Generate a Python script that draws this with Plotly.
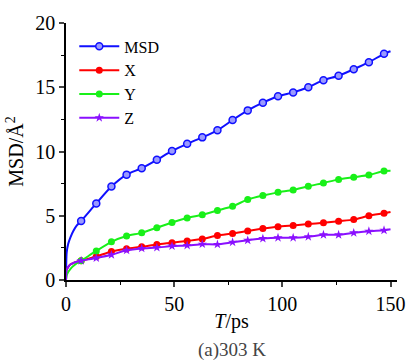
import plotly.graph_objects as go

# time points (ps): early points + marker points every 7 ps + end point
t_early = [0, 0.3, 1, 2, 3.5, 5]
t_mark = [7, 14, 21, 28, 35, 42, 49, 56, 63, 70, 77, 84, 91, 98, 105, 112, 119, 126, 133, 140, 147]
t_end = [150]

msd_early = [0, 2.1, 2.8, 3.3, 3.85, 4.25]
msd_mark = [4.6, 5.96, 7.27, 8.2, 8.7, 9.35, 10.04, 10.6, 11.1, 11.65, 12.45, 13.2, 13.8, 14.3, 14.6, 15.0, 15.55, 15.9, 16.4, 16.95, 17.6]
msd_end = [17.8]

x_early = [0, 0.8, 1.0, 1.2, 1.33, 1.42]
x_mark = [1.5, 1.83, 2.22, 2.44, 2.59, 2.77, 2.9, 3.04, 3.19, 3.47, 3.62, 3.82, 4.0, 4.15, 4.25, 4.35, 4.45, 4.58, 4.7, 5.0, 5.2]
x_end = [5.3]

y_early = [0, 0.35, 0.62, 0.85, 1.1, 1.3]
y_mark = [1.5, 2.26, 2.97, 3.42, 3.67, 4.07, 4.48, 4.83, 5.08, 5.41, 5.74, 6.26, 6.57, 6.82, 7.0, 7.3, 7.55, 7.83, 8.0, 8.17, 8.48]
y_end = [8.5]

z_early = [0, 0.8, 1.0, 1.2, 1.33, 1.42]
z_mark = [1.5, 1.71, 1.96, 2.31, 2.46, 2.52, 2.64, 2.69, 2.79, 2.77, 2.94, 3.09, 3.22, 3.29, 3.29, 3.37, 3.52, 3.52, 3.67, 3.8, 3.87]
z_end = [3.95]

series = [
    ("MSD", msd_early, msd_mark, msd_end, "#1010ff", dict(symbol="circle", size=7, color="#9a9aff", line=dict(color="#1010ff", width=1.5))),
    ("X", x_early, x_mark, x_end, "#ff0000", dict(symbol="circle", size=7, color="#ff0000", line=dict(width=0))),
    ("Y", y_early, y_mark, y_end, "#19f019", dict(symbol="circle", size=7, color="#19f019", line=dict(width=0))),
    ("Z", z_early, z_mark, z_end, "#8a10ff", dict(symbol="star", size=7, color="#8a10ff", line=dict(width=0))),
]

fig = go.Figure()
t_all = t_early + t_mark + t_end
for name, e, m, en, col, mk in series:
    fig.add_trace(go.Scatter(x=t_all, y=e + m + en, mode="lines", line=dict(color=col, width=2, shape="spline", smoothing=0.6),
                             showlegend=False, hoverinfo="skip"))
    fig.add_trace(go.Scatter(x=t_mark, y=m, mode="markers", marker=mk, showlegend=False))
    fig.add_trace(go.Scatter(x=[None], y=[None], mode="lines+markers", name=name,
                             line=dict(color=col, width=2), marker=mk))

font_serif = "Liberation Serif, Times New Roman, serif"
fig.update_layout(
    width=417, height=363,
    margin=dict(l=66, r=13, t=15, b=83),
    paper_bgcolor="white", plot_bgcolor="white",
    font=dict(family=font_serif, size=20, color="black"),
    xaxis=dict(range=[0, 153], tickvals=[0, 50, 100, 150], showgrid=False, zeroline=False,
               showline=True, linecolor="black", linewidth=1.5, ticks="outside", ticklen=5, tickwidth=1.5,
               tickfont=dict(size=20),
               minor=dict(tickvals=[25, 75, 125], ticks="outside", ticklen=3, tickwidth=1.2, tickcolor="black"),
               title=dict(text="<i>T</i>/ps", font=dict(size=20), standoff=0)),
    yaxis=dict(range=[0, 20], tickvals=[0, 5, 10, 15, 20], showgrid=False, zeroline=False,
               showline=True, linecolor="black", linewidth=1.5, ticks="outside", ticklen=5, tickwidth=1.5,
               tickfont=dict(size=20),
               minor=dict(tickvals=[2.5, 7.5, 12.5, 17.5], ticks="outside", ticklen=3, tickwidth=1.2, tickcolor="black"),
               title=dict(text="MSD/Å<sup>2</sup>", font=dict(size=20), standoff=6)),
    legend=dict(x=0.025, y=0.975, xanchor="left", yanchor="top", bgcolor="rgba(0,0,0,0)",
                font=dict(size=16), tracegroupgap=0, itemwidth=40),
    annotations=[dict(text="(a)303 K", xref="paper", yref="paper", x=0.5, y=-0.222, xanchor="center", yanchor="top",
                      showarrow=False, font=dict(size=19, color="#444444", family=font_serif))],
)

fig.write_html("out.html")
